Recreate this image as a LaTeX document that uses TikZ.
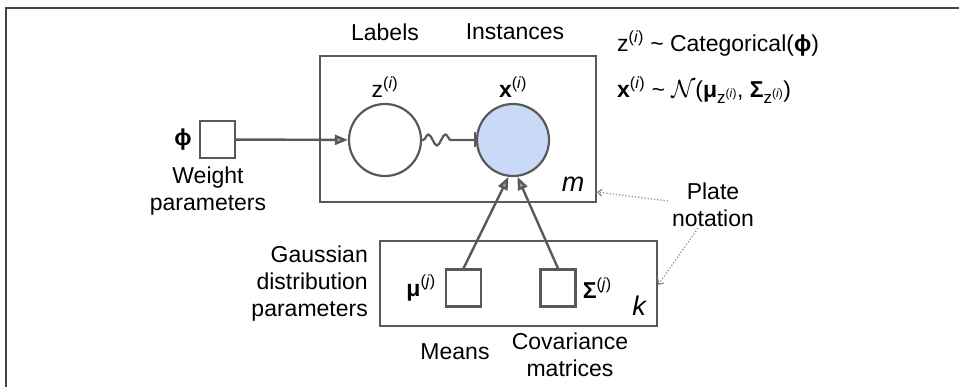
\documentclass[tikz,border=0pt]{standalone}
\usepackage{fontspec}
\setmainfont{Liberation Sans}
\usepackage{xcolor}
\usepackage{tikz}
\usetikzlibrary{arrows.meta,positioning,decorations.pathmorphing}

\definecolor{linegray}{HTML}{595959}
\definecolor{framegray}{HTML}{444444}
\definecolor{notegray}{HTML}{8A8A8A}
\definecolor{obsblue}{HTML}{C9DAF8}
\newcommand{\zsub}{\raisebox{-6pt}{\fontsize{17}{17}\selectfont z\textsuperscript{(\textit{i})}}}

\begin{document}
\begin{tikzpicture}[
  x=1pt, y=-1pt,
  lbl/.style={font=\fontsize{23}{27}\selectfont, inner sep=1pt, align=center},
  idx/.style={font=\fontsize{27}{30}\selectfont\itshape, inner sep=1pt},
  plate/.style={draw=linegray, line width=2pt, inner sep=0pt},
  var/.style={draw=linegray, circle, line width=2.2pt, minimum size=72pt, inner sep=0pt},
  param/.style={draw=linegray, line width=2.2pt, minimum width=35pt, minimum height=37pt, inner sep=0pt},
  arr/.style={draw=linegray, line width=2.4pt, -{Triangle[length=13pt, width=10pt, fill=linegray!55]}},
  squig/.style={draw=linegray, line width=2.2pt, -{Bar[width=15pt]}, decorate,
    decoration={snake, amplitude=5.5pt, segment length=17pt, pre length=1pt, post length=18pt}},
  note/.style={draw=notegray, dotted, line width=1.2pt, -{Straight Barb[length=4pt, width=7pt]}}
]
\useasboundingbox (0,0) rectangle (959,387);
\draw[framegray, line width=2pt] (6,387) -- (6,8) -- (959,8);

% plates
\node[plate, minimum width=276pt, minimum height=146pt] (mplate) at (458,129) {};
\node[plate, minimum width=277pt, minimum height=85pt] (kplate) at (518.5,283.5) {};
\node[idx] (mlbl) at (573,184) {m};
\node[idx] (klbl) at (639,306) {k};

% variables
\node[var] (z) at (385,140) {};
\node[var, fill=obsblue] (x) at (513,140) {};
\node[lbl, above=4pt of z] (zlbl) {z\textsuperscript{(\textit{i})}};
\node[lbl, above=4pt of x] (xlbl) {\textbf{x}\textsuperscript{(\textit{i})}};
\node[lbl] (labels) at (385,32) {Labels};
\node[lbl] (inst) at (515,32) {Instances};

% parameters
\node[param] (phi) at (217.5,139.5) {};
\node[lbl, left=6pt of phi] (philbl) {\textbf{ϕ}};
\node[lbl] (weight) at (208,191) {Weight\\parameters};

\node[param] (mu) at (463.5,288) {};
\node[param] (sigma) at (558,288) {};
\node[lbl, left=8pt of mu] (mulbl) {\textbf{μ}\textsuperscript{(\textit{j})}};
\node[lbl, right=5pt of sigma] (sigmalbl) {\textbf{Σ}\textsuperscript{(\textit{j})}};
\node[lbl, align=right, anchor=east] (gauss) at (369,284) {Gaussian\\distribution\\parameters};
\node[lbl] (means) at (455,352) {Means};
\node[lbl] (cov) at (570,355) {Covariance\\matrices};

% equations
\node[lbl, anchor=west] (eqz) at (616,44) {z\textsuperscript{(\textit{i})} \textasciitilde{} Categorical(\textbf{ϕ})};
\node[lbl, anchor=west] (eqx) at (616,90) {\textbf{x}\textsuperscript{(\textit{i})} \textasciitilde{} $\mathcal{N}$(\textbf{μ}\zsub, \textbf{Σ}\zsub)};

\node[lbl] (platenote) at (713,205) {Plate\\notation};

% connectors
\draw[arr] (phi) -- (z);
\draw[squig] (z) -- (x);
\draw[arr] (mu.north) -- (x.-97);
\draw[arr] (sigma.north) -- (x.-83);
\draw[note] ([xshift=-3pt, yshift=4pt]platenote.west) -- ([yshift=11pt]mplate.south east);
\draw[note] ([xshift=-15pt]platenote.south) -- ([yshift=42pt]kplate.south east);
\end{tikzpicture}
\end{document}
